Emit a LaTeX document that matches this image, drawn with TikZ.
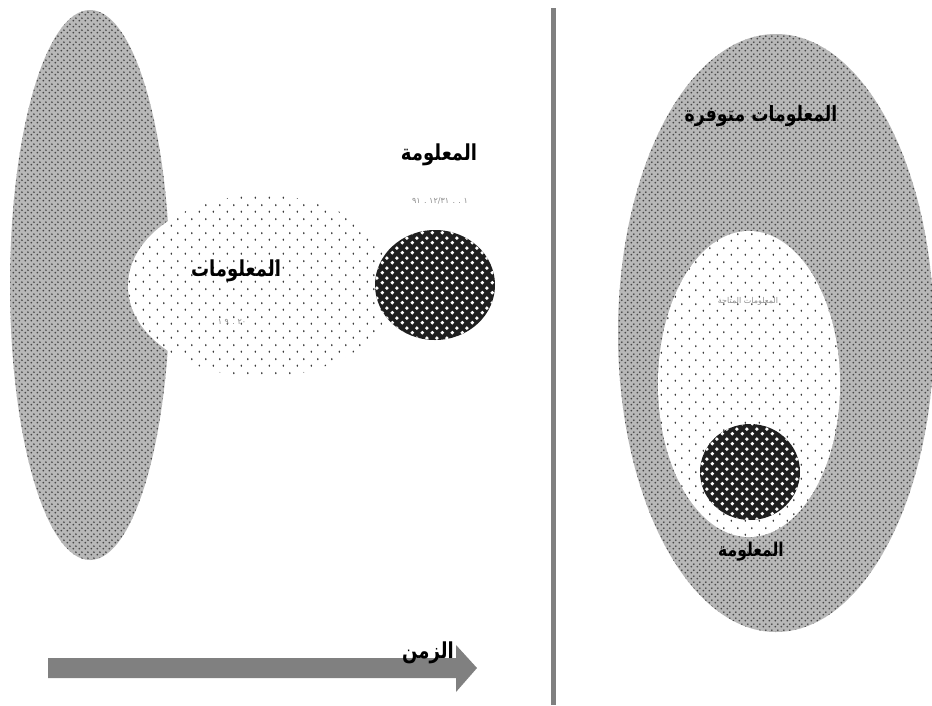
\documentclass[tikz,border=0pt]{standalone}
\usepackage{fontspec}
\usetikzlibrary{patterns.meta}
\TeXXeTstate=1
\newfontfamily\arabicfont[Script=Arabic]{DejaVu Sans}
\newfontfamily\arabicnarrow[Script=Arabic, FakeStretch=0.82]{DejaVu Sans}

% dot textures used for the three kinds of region
\tikzdeclarepattern{
  name=finedots, type=uncolored,
  bottom left={(0pt,0pt)}, top right={(6pt,6pt)}, tile size={(6pt,6pt)},
  code={\fill (1.5pt,1.5pt) circle (1.15pt); \fill (4.5pt,4.5pt) circle (1.15pt);}
}
\tikzdeclarepattern{
  name=sparsedots, type=uncolored,
  bottom left={(0pt,0pt)}, top right={(14pt,14pt)}, tile size={(14pt,14pt)},
  code={\fill (3.5pt,3.5pt) ellipse (0.8pt and 1.3pt); \fill (10.5pt,10.5pt) ellipse (0.8pt and 1.3pt);}
}
\tikzdeclarepattern{
  name=holedots, type=uncolored,
  bottom left={(0pt,0pt)}, top right={(10pt,10pt)}, tile size={(10pt,10pt)},
  code={\fill (2.5pt,2.5pt) circle (2.1pt); \fill (7.5pt,7.5pt) circle (2.1pt);}
}

\tikzset{
  greyzone/.style={fill=black!28, postaction={pattern=finedots, pattern color=black!72}},
  lightzone/.style={fill=white, postaction={pattern=sparsedots, pattern color=black!85}},
  darkzone/.style={fill=black!88, postaction={pattern=holedots, pattern color=white}},
  biglabel/.style={font=\arabicnarrow\bfseries\fontsize{22}{26}\selectfont, inner sep=0pt},
  smalllabel/.style={font=\arabicfont\fontsize{8}{10}\selectfont, text=black!45, inner sep=0pt},
  divider/.style={draw=black!50, line width=5pt},
  timearrow/.style={fill=black!50}
}

\begin{document}
\begin{tikzpicture}[x=1pt, y=-1pt]
\useasboundingbox (0,0) rectangle (932,705);

% left side: past information, present information, one item
\fill[greyzone] (90,285) ellipse (80 and 275);
\fill[lightzone] (262,286) ellipse (134 and 91);
\fill[darkzone] (435,285) ellipse (60 and 55);

\node[biglabel] (itemL) at (439,155) {\beginR المعلومة\endR};
\node[smalllabel] (dateL) at (440,201) {\beginR ١ . . ١٢/٣١ . ٩١\endR};
\node[biglabel] (infoL) at (236,271) {\beginR المعلومات\endR};
\node[smalllabel] (noteL) at (232,322) {\beginR ٢٠ . ٩ ١\endR};

% time axis
\coordinate (tStart) at (48,668);
\fill[timearrow] (48,658) -- (456,658) -- (456,645) -- (477,668) -- (456,692) -- (456,678) -- (48,678) -- cycle;
\node[biglabel] (time) at (428,653) {\beginR الزمن\endR};

% separator
\coordinate (sepTop) at (553,8);
\coordinate (sepBot) at (553,705);
\draw[divider] (sepTop) -- (sepBot);

% right side: available information, accessible part, one item
\fill[greyzone] (776,333) ellipse (158 and 299);
\fill[lightzone] (749,384) ellipse (91 and 153);
\fill[darkzone] (750,472) ellipse (50 and 48);

\node[biglabel, font=\arabicnarrow\bfseries\fontsize{21}{25}\selectfont] (infoR) at (761,116) {\beginR المعلومات متوفرة\endR};
\node[smalllabel] (noteR) at (748,301) {\beginR المعلومات المتاحة\endR};
\node[biglabel, font=\arabicnarrow\bfseries\fontsize{19}{23}\selectfont] (itemR) at (751,552) {\beginR المعلومة\endR};
\end{tikzpicture}
\end{document}
